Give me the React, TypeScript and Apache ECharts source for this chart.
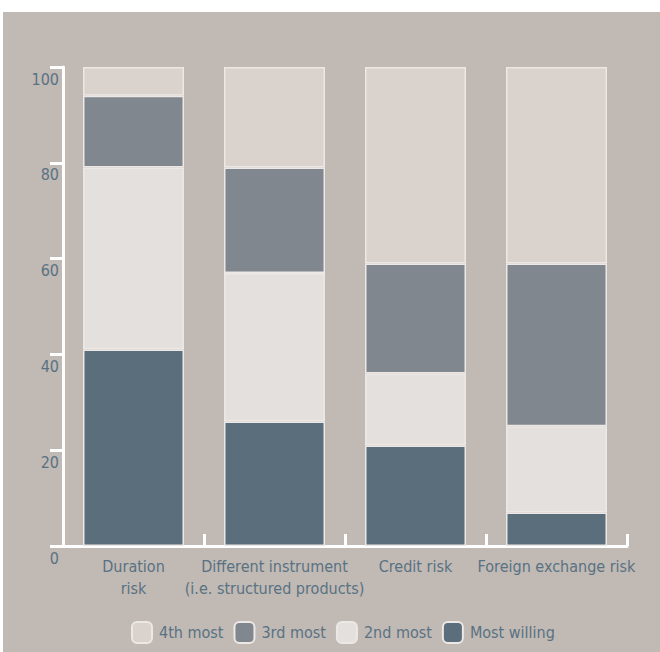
import React, { useEffect, useRef } from "react";
import * as echarts from "echarts";

const categories = [
  "Duration\nrisk",
  "Different instrument\n(i.e. structured products)",
  "Credit risk",
  "Foreign exchange risk",
];
const mostWilling = [41, 26, 21, 7];
const secondMost = [38, 31, 15, 18];
const thirdMost = [15, 22, 23, 34];
const fourthMost = [6, 21, 41, 41];
const legendOrder = ["4th most", "3rd most", "2nd most", "Most willing"];

const FONT = "'DejaVu Sans Condensed', 'Roboto', sans-serif";
const TEXT = "#587284";

export default function App() {
  const ref = useRef<HTMLDivElement>(null);
  useEffect(() => {
    if (!ref.current) return;
    const chart = echarts.init(ref.current, undefined, { renderer: "svg" });
    const mk = (name: string, data: number[], color: string) => ({
      name,
      type: "bar",
      stack: "total",
      data,
      barWidth: 101,
      itemStyle: { color, borderColor: "#ece8e5", borderWidth: 1.5 },
    });
    chart.setOption({
      animation: false,
      backgroundColor: "#c1b9b3",
      textStyle: { fontFamily: FONT },
      grid: { left: 60, right: 33, top: 55, bottom: 106, containLabel: false },
      legend: {
        data: legendOrder,
        left: 128,
        top: 609,
        padding: 0,
        itemWidth: 20,
        itemHeight: 21,
        itemGap: 10,
        textStyle: { color: TEXT, fontSize: 16, fontFamily: FONT, padding: [0, 0, 0, 2] },
      },
      xAxis: {
        type: "category",
        data: categories,
        axisLine: { lineStyle: { color: "#ffffff", width: 3 } },
        axisTick: { show: true, inside: true, length: 12, lineStyle: { color: "#ffffff", width: 3 } },
        axisLabel: { color: TEXT, fontSize: 16, lineHeight: 22, margin: 9, fontFamily: FONT, interval: 0 },
        splitLine: { show: false },
      },
      yAxis: {
        type: "value",
        min: 0,
        max: 100,
        interval: 20,
        axisLine: { show: true, lineStyle: { color: "#ffffff", width: 3 } },
        axisTick: { show: true, length: 13, lineStyle: { color: "#ffffff", width: 3 } },
        axisLabel: {
          color: TEXT,
          fontSize: 16,
          fontFamily: FONT,
          margin: 4,
          verticalAlign: "top",
          padding: [4, 0, 0, 0],
        },
        splitLine: { show: false },
      },
      series: [
        mk("Most willing", mostWilling, "#5a6e7c"),
        mk("2nd most", secondMost, "#e4e0dd"),
        mk("3rd most", thirdMost, "#81878f"),
        mk("4th most", fourthMost, "#d9d2cd"),
      ],
    });
    return () => chart.dispose();
  }, []);
  return (
    <div
      ref={ref}
      style={{ position: "absolute", left: 3, top: 12, width: 657, height: 640 }}
    />
  );
}
